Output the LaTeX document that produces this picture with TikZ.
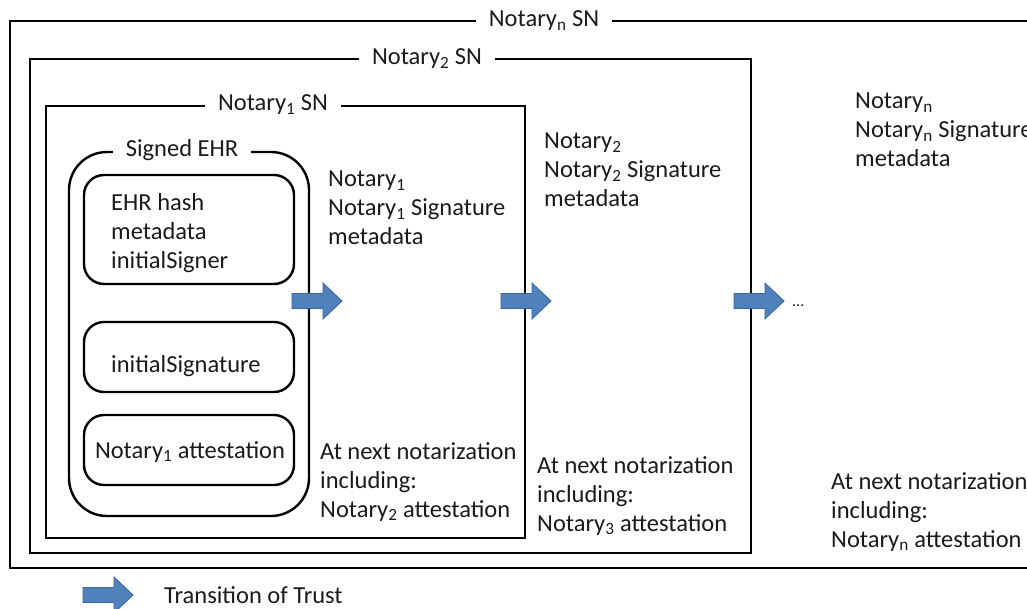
\documentclass[tikz,border=0pt]{standalone}
\usepackage{fontspec}
\setmainfont{Carlito}
\definecolor{arrowblue}{HTML}{4F81BD}
\definecolor{arrowedge}{HTML}{3A6699}
\definecolor{ink}{HTML}{1A1A1A}
\begin{document}
\begin{tikzpicture}[x=1pt,y=-1pt]
\tikzset{
  box/.style={draw=black, line width=2.4pt},
  txt/.style={font=\fontsize{24.5}{29}\selectfont, inner sep=0pt, align=left, text=ink},
  ttl/.style={txt, fill=white, inner xsep=13pt, inner ysep=3pt, anchor=base},
  trust/.pic={\path[fill=arrowblue, draw=arrowedge, line width=0.8pt]
     (0,-7.5) -- (31,-7.5) -- (31,-18) -- (50,0) -- (31,18) -- (31,7.5) -- (0,7.5) -- cycle;}
}
\path[use as bounding box] (0,0) rectangle (1027,609);
\clip (0,0) rectangle (1027,609);

% boxes
\draw[box, line width=2.8pt] (10,21) rectangle (1050,568);
\draw[box] (30,59) rectangle (751,553);
\draw[box] (46,106) rectangle (525,538);
\draw[box, rounded corners=38pt] (69,152) rectangle (309,516);
\draw[box, rounded corners=20pt] (84,175) rectangle (294,284);
\draw[box, rounded corners=20pt] (84,322) rectangle (294,392);
\draw[box, rounded corners=20pt] (84,415) rectangle (294,485);

% titles
\node[ttl] (tn) at (544,27) {Notary\textsubscript{n} SN};
\node[ttl] (t2) at (427,65) {Notary\textsubscript{2} SN};
\node[ttl] (t1) at (273,111) {Notary\textsubscript{1} SN};
\node[ttl] (tehr) at (182,157) {Signed EHR};

% inner texts (base anchor = baseline of last line)
\node[txt, anchor=base west] (ehr) at (111,269) {EHR hash\\metadata\\initialSigner};
\node[txt, anchor=base west] (isig) at (111,372) {initialSignature};
\node[txt, anchor=base] (att1) at (190,458) {Notary\textsubscript{1} attestation};

\node[txt, anchor=base west] (n1) at (328,245) {Notary\textsubscript{1}\\Notary\textsubscript{1} Signature\\metadata};
\node[txt, anchor=base west] (n2) at (544,207) {Notary\textsubscript{2}\\Notary\textsubscript{2} Signature\\metadata};
\node[txt, anchor=base west] (nn) at (855,167) {Notary\textsubscript{n}\\Notary\textsubscript{n} Signature\\metadata};

\node[txt, anchor=base west] (a1) at (320,517) {At next notarization\\including:\\Notary\textsubscript{2} attestation};
\node[txt, anchor=base west] (a2) at (537,531) {At next notarization\\including:\\Notary\textsubscript{3} attestation};
\node[txt, anchor=base west] (an) at (831,547) {At next notarization\\including:\\Notary\textsubscript{n} attestation};

% arrows
\pic (arr1) at (292,301) {trust};
\pic (arr2) at (501,301) {trust};
\pic (arr3) at (734,301) {trust};
\node[txt, anchor=base west] (dots) at (792,307) {\fontsize{16}{19}\selectfont ...};

% legend
\pic (legarr) at (83,595) {trust};
\node[txt, anchor=base west] (leg) at (164,603) {Transition of Trust};
\end{tikzpicture}
\end{document}
